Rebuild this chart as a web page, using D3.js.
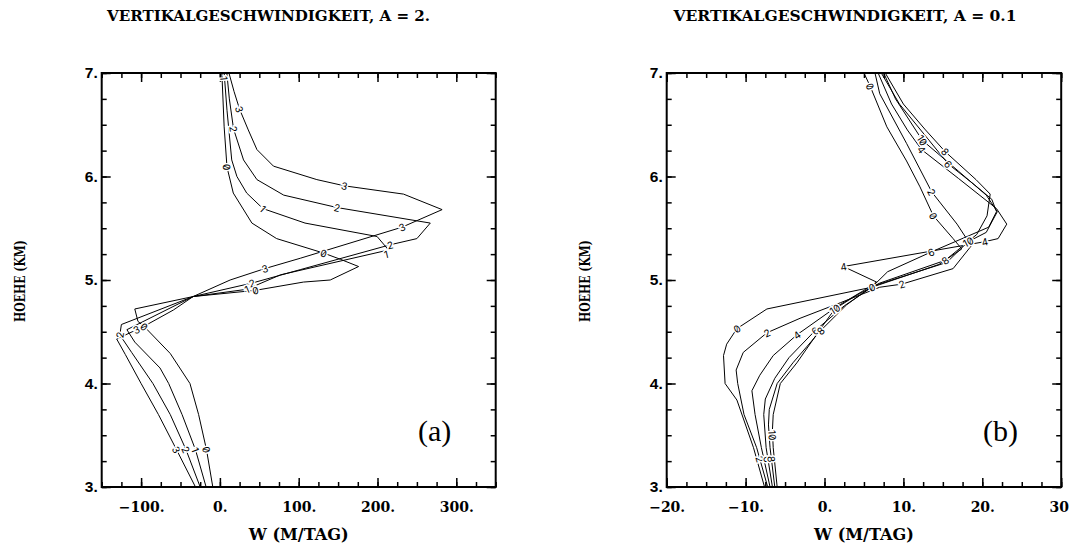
<!DOCTYPE html>
<html lang="de">
<head>
<meta charset="UTF-8">
<title>Vertikalgeschwindigkeit</title>
<script src="https://cdnjs.cloudflare.com/ajax/libs/d3/7.8.5/d3.min.js"></script>
<style>
  body { margin: 0; background: #fff; }
  svg { display: block; }
  .title { font-family: "DejaVu Serif", serif; font-weight: bold; font-size: 14.5px; }
  .axlabel { font-family: "DejaVu Serif", serif; font-weight: bold; }
  .ax text { font-family: "DejaVu Serif", serif; font-weight: bold; font-size: 14px; fill: #000; }
  .ax.yax text { font-family: "Liberation Sans", sans-serif; font-size: 15.5px; }
  .ax line { stroke: #000; stroke-width: 1.5px; }
  .curve { fill: none; stroke: #000; stroke-width: 1px; }
  .clabel { font-family: Inter, "DejaVu Sans", sans-serif; font-size: 10px; font-feature-settings: "zero" 1;
            fill: #000; paint-order: stroke; stroke: #fff; stroke-width: 3px; }
  .panel-tag { font-family: "Liberation Serif", serif; font-size: 30px; }
</style>
</head>
<body>
<svg id="chart" width="1069" height="552"></svg>
<script>
// ---- data -------------------------------------------------------------
// height axis (km), shared by both panels
const zDomain = [3, 7];
const zTicks = [3, 4, 5, 6, 7];

// panel (a): A = 2, W in m/Tag
const wDomainA = [-150, 350];
const wTicksA = [-100, 0, 100, 200, 300];
// profiles [w, z], top to bottom
const a0 = [[2.5,7.0],[5.4,6.48],[9,6.09],[17,5.84],[40.6,5.55],[72,5.40],[131.7,5.26],[153,5.20],[176,5.13],
            [140,5.0],[106,4.98],[45,4.90],[-34,4.84],[-108,4.72],[-104,4.60],[-96,4.55],[-63,4.29],[-38,4.0],
            [-27,3.7],[-17,3.36],[-9,3.0]];
const a1 = [[5.4,7.0],[9,6.64],[15,6.16],[21.6,6.0],[34,5.84],[54.6,5.69],[108,5.55],[199.5,5.42],[214,5.29],
            [77,5.05],[34,4.91],[-34,4.84],[-118,4.52],[-108,4.40],[-76,4.15],[-65,4.0],[-48,3.7],[-31,3.36],[-17.5,3.0]];
const a2 = [[8.8,7.0],[12,6.75],[17.3,6.46],[30,6.16],[47,5.97],[81,5.82],[148.7,5.70],[267,5.55],[250,5.40],
            [216,5.34],[102,5.10],[40.6,4.97],[-34,4.84],[-125,4.57],[-127,4.47],[-112,4.30],[-85,4.0],[-63,3.7],
            [-43,3.36],[-25,3.0]];
const a3 = [[11.5,7.0],[18,6.82],[25,6.65],[36,6.45],[47,6.26],[68,6.10],[123,5.97],[158,5.91],[233,5.83],
            [282,5.68],[231,5.51],[102,5.21],[57,5.11],[13,5.0],[-34,4.84],[-59,4.71],[-97,4.55],[-131,4.43],
            [-120,4.28],[-100,4.0],[-78,3.7],[-55,3.36],[-31,3.0]];
// contour-style labels [text, w, z]
const labelsA = [
  ["3",25,6.65],["3",158,5.91],["3",231,5.51],["3",57,5.11],["3",-106,4.52],["3",-55,3.36],
  ["2",17.3,6.46],["2",148.7,5.70],["2",216,5.34],["2",40.6,4.97],["2",-127,4.47],["2",-43,3.36],
  ["1",5.4,6.95],["1",54.6,5.69],["1",211,5.25],["1",34,4.91],["1",-31,3.36],
  ["0",9,6.09],["0",131.7,5.26],["0",45,4.90],["0",-96,4.55],["0",-17,3.36]
];

// panel (b): A = 0.1
const wDomainB = [-20, 30];
const wTicksB = [-20, -10, 0, 10, 20, 30];
const b0 = [[5.0,7.0],[5.8,6.87],[7.9,6.48],[10.4,6.15],[12.1,5.90],[13.8,5.62],[16.3,5.40],[17.4,5.30],
            [14.5,5.15],[9.5,5.02],[6.0,4.93],[-7.3,4.72],[-11.1,4.53],[-12.4,4.38],[-12.8,4.27],[-12.6,4.0],
            [-11.1,3.84],[-9.0,3.38],[-7.6,3.0]];
const b2 = [[6.4,7.0],[7.0,6.8],[10.4,6.32],[13.6,5.85],[16.8,5.54],[18.6,5.33],[16.3,5.11],[9.8,4.96],[7.0,4.93],
            [2,4.78],[-3.1,4.63],[-7.3,4.49],[-10.3,4.30],[-11.2,4.13],[-11.0,4.0],[-10.2,3.7],[-8.6,3.38],[-7.2,3.0]];
const b4 = [[6.8,7.0],[8.5,6.7],[10.5,6.45],[12.3,6.26],[17,5.98],[21.8,5.69],[23.1,5.54],[22,5.40],[20.3,5.37],
            [2.4,5.13],[6.6,4.98],[5.0,4.90],[1.5,4.74],[-3.5,4.47],[-6.5,4.27],[-8.2,4.08],[-9.2,3.93],[-8.8,3.7],
            [-8.0,3.38],[-6.9,3.0]];
const b6 = [[7.2,7.0],[9.5,6.7],[12.5,6.42],[15.7,6.12],[19,5.92],[21.2,5.78],[21.8,5.66],[20.8,5.51],[13.5,5.27],
            [8,5.08],[6.0,4.93],[2.5,4.75],[-1.2,4.51],[-4.5,4.25],[-6.3,4.05],[-7.5,3.85],[-7.7,3.70],[-7.4,3.38],[-6.6,3.0]];
const b8 = [[7.7,7.0],[10,6.7],[12.8,6.45],[15.3,6.24],[19.2,5.97],[21.0,5.83],[20.6,5.62],[19.3,5.44],[15.3,5.19],
            [7.0,4.97],[5.5,4.91],[2.8,4.76],[-0.5,4.51],[-4,4.2],[-6.0,4.0],[-7.0,3.75],[-7.1,3.6],[-6.9,3.38],[-6.3,3.0]];
const b10 = [[7.5,7.0],[9,6.75],[12.4,6.35],[17,6.05],[20.5,5.82],[21.9,5.66],[20.5,5.46],[18.2,5.37],[15.5,5.17],
             [6.5,4.95],[4,4.85],[1.3,4.72],[-0.3,4.55],[-3.5,4.2],[-5.6,4.0],[-6.5,3.7],[-6.6,3.55],[-6.5,3.38],[-6.0,3.0]];
const labelsB = [
  ["0",5.8,6.87],["0",13.8,5.62],["0",6.0,4.93],["0",-11.1,4.53],
  ["2",13.6,5.85],["2",9.8,4.96],["2",-7.3,4.49],["2",-8.2,3.27],
  ["4",12.3,6.26],["4",20.3,5.37],["4",2.4,5.13],["4",-3.5,4.47],
  ["6",15.7,6.12],["6",13.5,5.27],["6",-1.2,4.51],["6",-7.2,3.27],
  ["8",15.3,6.24],["8",15.3,5.19],["8",-0.5,4.51],["8",-6.7,3.27],
  ["10",12.4,6.35],["10",18.2,5.37],["10",1.3,4.72],["10",-6.6,3.5]
];

// ---- drawing ----------------------------------------------------------
const svg = d3.select("#chart");
const yTop = 73, yBottom = 487;

const fmt = d => (d < 0 ? "\u2212" : "") + Math.abs(d) + ".";

function angleAt(pts, px, py) {
  let best = Infinity, ang = 0;
  for (let i = 0; i < pts.length - 1; i++) {
    const [ax, ay] = pts[i], [bx, by] = pts[i + 1];
    const dx = bx - ax, dy = by - ay, L = dx * dx + dy * dy;
    let t = L ? ((px - ax) * dx + (py - ay) * dy) / L : 0;
    t = Math.max(0, Math.min(1, t));
    const qx = ax + t * dx - px, qy = ay + t * dy - py, d = qx * qx + qy * qy;
    if (d < best - 1e-6) { best = d; ang = Math.atan2(dy, dx) * 180 / Math.PI; }
  }
  if (ang > 90) ang -= 180;
  if (ang < -90) ang += 180;
  return ang;
}

function drawPanel(cfg) {
  const x = d3.scaleLinear().domain(cfg.wDomain).range([cfg.x0, cfg.x1]);
  const y = d3.scaleLinear().domain(zDomain).range([yBottom, yTop]);
  const g = svg.append("g");

  const clipId = "clip-" + cfg.id;
  svg.append("clipPath").attr("id", clipId).append("rect")
    .attr("x", cfg.x0).attr("y", yTop).attr("width", cfg.x1 - cfg.x0).attr("height", yBottom - yTop);

  const wMinor = d3.range(cfg.wDomain[0], cfg.wDomain[1] + 1e-9, cfg.minorStep);
  const zMinor = d3.range(zDomain[0], zDomain[1] + 1e-9, 0.25);
  const clean = s => s.call(a => a.select(".domain").remove())
                      .attr("font-size", null).attr("font-family", null);

  // minor ticks
  g.append("g").attr("class", "ax").attr("transform", `translate(0,${yBottom})`)
    .call(d3.axisBottom(x).tickValues(wMinor).tickSize(-5).tickFormat("")).call(clean);
  g.append("g").attr("class", "ax").attr("transform", `translate(0,${yTop})`)
    .call(d3.axisTop(x).tickValues(wMinor).tickSize(-5).tickFormat("")).call(clean);
  g.append("g").attr("class", "ax").attr("transform", `translate(${cfg.x0},0)`)
    .call(d3.axisLeft(y).tickValues(zMinor).tickSize(-5).tickFormat("")).call(clean);
  g.append("g").attr("class", "ax").attr("transform", `translate(${cfg.x1},0)`)
    .call(d3.axisRight(y).tickValues(zMinor).tickSize(-5).tickFormat("")).call(clean);

  // major ticks with labels
  g.append("g").attr("class", "ax").attr("transform", `translate(0,${yBottom})`)
    .call(d3.axisBottom(x).tickValues(cfg.wTicks).tickSize(-9).tickPadding(15).tickFormat(fmt)).call(clean);
  g.append("g").attr("class", "ax").attr("transform", `translate(0,${yTop})`)
    .call(d3.axisTop(x).tickValues(cfg.wTicks).tickSize(-9).tickFormat("")).call(clean);
  g.append("g").attr("class", "ax yax").attr("transform", `translate(${cfg.x0},0)`)
    .call(d3.axisLeft(y).tickValues(zTicks).tickSize(-9).tickPadding(4).tickFormat(d => d + ".")).call(clean);
  g.append("g").attr("class", "ax").attr("transform", `translate(${cfg.x1},0)`)
    .call(d3.axisRight(y).tickValues(zTicks).tickSize(-9).tickFormat("")).call(clean);

  // curves
  const line = d3.line().x(d => x(d[0])).y(d => y(d[1]));
  const cg = g.append("g").attr("clip-path", `url(#${clipId})`);
  Object.values(cfg.curves).forEach(c => {
    cg.append("path").attr("class", "curve").attr("d", line(c));
  });

  // contour labels
  cfg.labels.forEach(([t, w, z]) => {
    const pts = cfg.curves[t].map(d => [x(d[0]), y(d[1])]);
    const px = x(w), py = y(z);
    const ang = angleAt(pts, px, py);
    cg.append("text").attr("class", "clabel")
      .attr("text-anchor", "middle").attr("dominant-baseline", "central")
      .attr("transform", `translate(${px},${py}) rotate(${ang})`)
      .text(t);
  });

  // frame
  g.append("rect").attr("x", cfg.x0).attr("y", yTop)
    .attr("width", cfg.x1 - cfg.x0).attr("height", yBottom - yTop)
    .attr("fill", "none").attr("stroke", "#000").attr("stroke-width", 2);

  // texts
  svg.append("text").attr("class", "title").attr("x", cfg.titleX).attr("y", 20.5)
    .attr("text-anchor", "middle").attr("textLength", cfg.titleLen).attr("lengthAdjust", "spacingAndGlyphs")
    .text(cfg.title);
  svg.append("text").attr("class", "axlabel").attr("font-size", 16)
    .attr("x", (cfg.x0 + cfg.x1) / 2).attr("y", 540).attr("text-anchor", "middle")
    .attr("textLength", 100).attr("lengthAdjust", "spacingAndGlyphs").text("W (M/TAG)");
  svg.append("text").attr("class", "axlabel").attr("font-size", 14)
    .attr("transform", `translate(${cfg.yLabelX},${281}) rotate(-90)`)
    .attr("text-anchor", "middle").attr("dominant-baseline", "central")
    .attr("textLength", 82).attr("lengthAdjust", "spacingAndGlyphs").text("HOEHE (KM)");
  svg.append("text").attr("class", "panel-tag").attr("x", cfg.tagX).attr("y", 441).text(cfg.tag);
}

drawPanel({
  id: "a", x0: 101.7, x1: 495.7, wDomain: wDomainA, wTicks: wTicksA, minorStep: 25,
  curves: { "0": a0, "1": a1, "2": a2, "3": a3 }, labels: labelsA,
  title: "VERTIKALGESCHWINDIGKEIT, A = 2.", titleX: 268.5, titleLen: 323,
  yLabelX: 20, tag: "(a)", tagX: 418
});
drawPanel({
  id: "b", x0: 666.7, x1: 1061.2, wDomain: wDomainB, wTicks: wTicksB, minorStep: 2.5,
  curves: { "0": b0, "2": b2, "4": b4, "6": b6, "8": b8, "10": b10 }, labels: labelsB,
  title: "VERTIKALGESCHWINDIGKEIT, A = 0.1", titleX: 845, titleLen: 343,
  yLabelX: 585, tag: "(b)", tagX: 983
});
</script>
</body>
</html>
